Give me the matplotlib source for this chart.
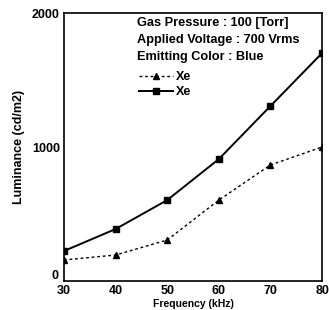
import matplotlib
matplotlib.use("Agg")
import matplotlib.pyplot as plt
from matplotlib.lines import Line2D

# Datos
freq = [30, 40, 50, 60, 70, 80]
lum_dashed = [157, 194, 306, 604, 866, 1000]
lum_solid = [224, 388, 604, 910, 1306, 1701]
x_ticks = [30, 40, 50, 60, 70, 80]
y_ticks = [0, 1000, 2000]
info_lines = ["Gas Pressure : 100 [Torr]",
              "Applied Voltage : 700 Vrms",
              "Emitting Color : Blue"]
series_labels = ["Xe", "Xe"]

plt.rcParams['font.family'] = ['Liberation Sans', 'DejaVu Sans']
plt.rcParams['font.weight'] = 'bold'

fig = plt.figure(figsize=(3.29, 3.10), dpi=100)
ax = fig.add_axes([0.1945, 0.0935, 0.7845, 0.8645])

ax.plot(freq, lum_dashed, linestyle=(0, (2, 2)), color="black", lw=1.0,
        marker="^", ms=4.5)
ax.plot(freq, lum_solid, linestyle="-", color="black", lw=1.4,
        marker="s", ms=4.5)

ax.set_xlim(30, 80)
ax.set_ylim(0, 2000)
ax.set_xticks(x_ticks)
ax.set_yticks(y_ticks)
ax.set_yticklabels(["", "1000", "2000"])
ax.tick_params(length=0, labelsize=9, pad=3)
for lab in ax.get_xticklabels() + ax.get_yticklabels():
    lab.set_fontweight("bold")
for sp in ax.spines.values():
    sp.set_linewidth(1.2)

fig.text(0.168, 0.11, "0", fontsize=9, fontweight="bold", ha="center", va="center")

ax.set_xlabel("Frequency (kHz)", fontsize=7.5, fontweight="bold", labelpad=1)
ax.set_ylabel("Luminance (cd/m2)", fontsize=9, fontweight="bold", labelpad=5)

info_y = [0.963, 0.899, 0.836]
for t, yy in zip(info_lines, info_y):
    ax.text(0.283, yy, t, transform=ax.transAxes,
            fontsize=9.2, fontweight="bold", va="center", ha="left")

handles = [Line2D([], [], color="black", linestyle=(0, (2, 2)), lw=1.0, marker="^", ms=4),
           Line2D([], [], color="black", linestyle="-", lw=1.4, marker="s", ms=4)]
ax.legend(handles, series_labels, loc="upper left", bbox_to_anchor=(0.29, 0.782),
          frameon=False, fontsize=9, handlelength=2.7, handletextpad=0.3,
          labelspacing=0.2, borderpad=0, borderaxespad=0)

fig.savefig("out.png", dpi=100)
